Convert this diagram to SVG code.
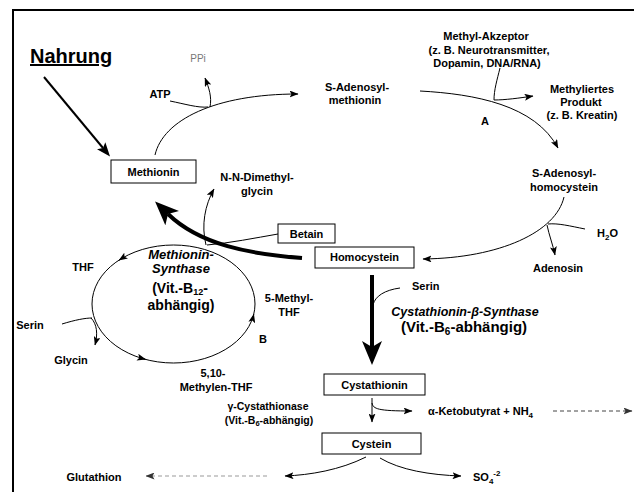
<svg xmlns="http://www.w3.org/2000/svg" width="634" height="492" viewBox="0 0 634 492">
<defs>
<style>
text{font-family:"Liberation Sans",Arial,sans-serif;font-size:11px;font-weight:bold;fill:#000}
.c{text-anchor:middle}
.big{font-size:15px}
.it{font-style:italic;font-size:13px}
.box{fill:#fff;stroke:#000;stroke-width:1}
.ln{fill:none;stroke:#000;stroke-width:1}
.thick{fill:none;stroke:#000;stroke-width:4}
</style>
<marker id="sm" viewBox="0 0 9 7" refX="8.5" refY="3.5" markerWidth="9" markerHeight="7" markerUnits="userSpaceOnUse" orient="auto"><path d="M0,0 L9,3.5 L0,7 L2,3.5z" fill="#000"/></marker>
<marker id="smg" viewBox="0 0 9 7" refX="8.5" refY="3.5" markerWidth="9" markerHeight="7" markerUnits="userSpaceOnUse" orient="auto"><path d="M0,0 L9,3.5 L0,7 L2,3.5z" fill="#333"/></marker>
<marker id="med" viewBox="0 0 14 11" refX="3" refY="5.5" markerWidth="14" markerHeight="11" markerUnits="userSpaceOnUse" orient="auto"><path d="M0,0 L14,5.5 L0,11 L3,5.5z" fill="#000"/></marker>
<marker id="bg" viewBox="0 0 24 20" refX="6" refY="10" markerWidth="24" markerHeight="20" markerUnits="userSpaceOnUse" orient="auto"><path d="M0,0 L24,10 L0,20 L6,10z" fill="#000"/></marker>
</defs>
<rect width="634" height="492" fill="#fff"/>
<path d="M13,492 V10 H634" fill="none" stroke="#000" stroke-width="2"/>

<g id="connectors">
<path d="M44,77 L103,148" stroke="#000" stroke-width="2" fill="none" marker-end="url(#med)"/>
<path class="ln" d="M155,155 C163,120 215,94 298,94" marker-end="url(#sm)"/>
<path class="ln" d="M170,101 C185,104 198,108 208,107"/>
<path class="ln" d="M210,107 C212,97 209,88 205,78" marker-end="url(#sm)"/>
<path class="ln" d="M420,91 C475,94 535,105 558,148" marker-end="url(#sm)"/>
<path class="ln" d="M500,68 C497,80 494,90 494,100"/>
<path class="ln" d="M494,100 C505,100 520,98 533,96" marker-end="url(#sm)"/>
<path class="ln" d="M564,197 C556,232 500,258 423,259" marker-end="url(#sm)"/>
<path class="ln" d="M585,229 C570,226 558,223 548,224"/>
<path class="ln" d="M547,225 C549,235 553,245 555,255" marker-end="url(#sm)"/>
<path class="thick" d="M302,258 C250,254 200,245 168,214" marker-end="url(#bg)"/>
<path class="ln" d="M278,234 C255,238 230,243 207,245"/>
<path class="ln" d="M206,245 C201,225 205,205 214,189" marker-end="url(#sm)"/>
<ellipse class="ln" cx="173.5" cy="304" rx="81.5" ry="59"/>
<path class="ln" d="M121.5,258.6 L119,260.2" marker-end="url(#sm)"/>
<path class="ln" d="M142.7,358.6 L145.6,359.4" marker-end="url(#sm)"/>
<path class="ln" d="M253.1,317.2 L253.8,314.3" marker-end="url(#sm)"/>
<path class="ln" d="M62,324 C75,320 85,318 92,318"/>
<path class="ln" d="M91,318 C97,324 98,334 95,345" marker-end="url(#sm)"/>
<path class="thick" d="M372,275 V347" marker-end="url(#bg)"/>
<path class="ln" d="M400,288 C385,290 375,296 373,305"/>
<path class="ln" d="M372,398 V422" marker-end="url(#sm)"/>
<path class="ln" d="M372,403 C373,409 378,411 412,411" marker-end="url(#sm)"/>
<path d="M553,411 H632" fill="none" stroke="#444" stroke-dasharray="4,3" marker-end="url(#smg)"/>
<path class="ln" d="M366,457 C340,470 310,475 285,476" marker-end="url(#sm)"/>
<path class="ln" d="M380,458 C400,470 430,475 461,476" marker-end="url(#sm)"/>
<path d="M267,476 H146" fill="none" stroke="#999" stroke-dasharray="4,3" marker-end="url(#smg)"/>
</g>

<g id="nahrung"><text x="30" y="63" style="font-size:20px;text-decoration:underline">Nahrung</text></g>
<g id="methionin"><rect class="box" x="111" y="160" width="85" height="23"/><text class="c" x="153.5" y="176">Methionin</text></g>
<g id="ppi"><text class="c" x="198" y="62" style="font-weight:normal;font-size:10px;fill:#777">PPi</text></g>
<g id="atp"><text class="c" x="160" y="98">ATP</text></g>
<g id="sam"><text class="c" x="357" y="91">S-Adenosyl-</text><text class="c" x="355" y="104">methionin</text></g>
<g id="akzeptor"><text class="c" x="486" y="40">Methyl-Akzeptor</text><text class="c" x="489" y="54">(z. B. Neurotransmitter,</text><text class="c" x="487" y="67">Dopamin, DNA/RNA)</text></g>
<g id="produkt"><text class="c" x="582" y="93">Methyliertes</text><text class="c" x="581" y="106">Produkt</text><text class="c" x="582" y="119">(z. B. Kreatin)</text></g>
<g id="labelA"><text class="c" x="485" y="125">A</text></g>
<g id="sah"><text class="c" x="564" y="177">S-Adenosyl-</text><text class="c" x="564" y="191">homocystein</text></g>
<g id="h2o"><text x="597" y="237">H<tspan font-size="8" dy="3">2</tspan><tspan dy="-3">O</tspan></text></g>
<g id="adenosin"><text class="c" x="558" y="272">Adenosin</text></g>
<g id="dmg"><text class="c" x="257" y="181">N-N-Dimethyl-</text><text class="c" x="257" y="195">glycin</text></g>
<g id="betain"><rect class="box" x="278" y="224" width="57" height="19"/><text class="c" x="306.5" y="238">Betain</text></g>
<g id="homocystein"><rect class="box" x="315" y="247" width="99" height="21"/><text class="c" x="364.5" y="261">Homocystein</text></g>
<g id="thf"><text class="c" x="83" y="271">THF</text></g>
<g id="ms"><text class="c it" x="181" y="259">Methionin-</text><text class="c it" x="181" y="273">Synthase</text>
<text class="c" x="180" y="293" style="font-size:14px">(Vit.-B<tspan font-size="9" dy="2">12</tspan><tspan dy="-2">-</tspan></text><text class="c" x="181" y="310" style="font-size:14px">abhängig)</text></g>
<g id="mthf"><text class="c" x="289" y="302">5-Methyl-</text><text class="c" x="289" y="316">THF</text></g>
<g id="labelB"><text class="c" x="263" y="343">B</text></g>
<g id="serin1"><text class="c" x="30" y="329">Serin</text></g>
<g id="glycin"><text class="c" x="71" y="364">Glycin</text></g>
<g id="methylenthf"><text class="c" x="213" y="377">5,10-</text><text class="c" x="216" y="391">Methylen-THF</text></g>
<g id="serin2"><text x="412" y="290">Serin</text></g>
<g id="cbs"><text class="c it" x="465" y="316" style="font-size:12.5px">Cystathionin-β-Synthase</text>
<text class="c big" x="464" y="332">(Vit.-B<tspan font-size="10" dy="3">6</tspan><tspan dy="-3">-abhängig)</tspan></text></g>
<g id="cystathionin"><rect class="box" x="324" y="374" width="101" height="21"/><text class="c" x="374.5" y="389">Cystathionin</text></g>
<g id="cgl"><text class="c" x="268" y="410" style="font-size:10.5px">γ-Cystathionase</text><text class="c" x="269" y="424" style="font-size:10.5px">(Vit.-B<tspan font-size="7.5" dy="2">6</tspan><tspan dy="-2">-abhängig)</tspan></text></g>
<g id="keto"><text x="428" y="415">α-Ketobutyrat + NH<tspan font-size="8" dy="3">4</tspan></text></g>
<g id="cystein"><rect class="box" x="322" y="433" width="99" height="21"/><text class="c" x="371.5" y="448">Cystein</text></g>
<g id="glutathion"><text class="c" x="94" y="481">Glutathion</text></g>
<g id="so4"><text x="473" y="481">SO<tspan font-size="8" dy="3">4</tspan><tspan font-size="8" dy="-8">-2</tspan></text></g>
</svg>
